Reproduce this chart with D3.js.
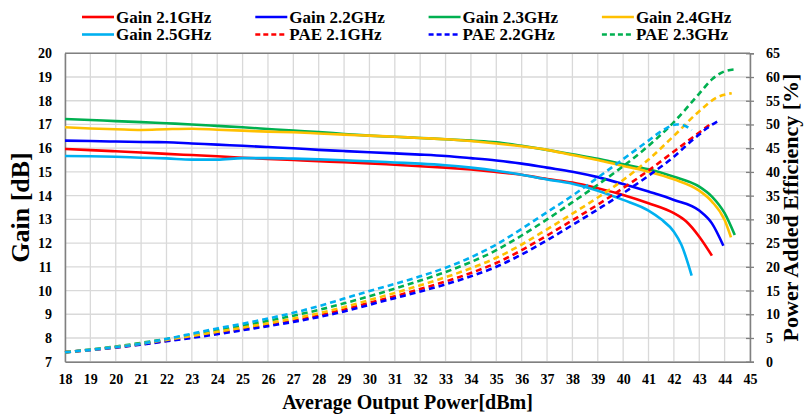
<!DOCTYPE html>
<html><head><meta charset="utf-8">
<script src="https://cdn.jsdelivr.net/npm/d3@7"></script>
<style>
html,body{margin:0;padding:0;background:#fff;}
svg text{font-family:"Liberation Serif","Times New Roman",serif;font-weight:bold;fill:#000;}
</style></head>
<body><svg id="c" width="805" height="415"></svg>
<script>
// ---------- data ----------
const powerTicks = [18,19,20,21,22,23,24,25,26,27,28,29,30,31,32,33,34,35,36,37,38,39,40,41,42,43,44,45];
const gainTicks = [7,8,9,10,11,12,13,14,15,16,17,18,19,20];
const paeTicks = [0,5,10,15,20,25,30,35,40,45,50,55,60,65];

const gain21 = [[18,15.97],[19,15.92],[20,15.87],[21,15.82],[22,15.76],[23,15.71],[24,15.66],[25,15.60],[26,15.55],[27,15.50],[28,15.45],[29,15.41],[30,15.36],[31,15.30],[32,15.24],[33,15.18],[34,15.10],[35,15.00],[36,14.88],[37,14.70],[38,14.55],[39,14.31],[40,14.03],[41,13.68],[42,13.26],[42.5,12.90],[43,12.27],[43.5,11.47]];
const gain22 = [[18,16.32],[19,16.30],[20,16.28],[21,16.26],[22,16.25],[23,16.20],[24,16.15],[25,16.10],[26,16.05],[27,16.00],[28,15.93],[29,15.88],[30,15.83],[31,15.78],[32,15.73],[33,15.67],[34,15.58],[35,15.48],[36,15.35],[37,15.18],[38,15.01],[39,14.78],[40,14.49],[41,14.17],[42,13.82],[43,13.37],[43.5,12.83],[43.95,11.89]];
const gain23 = [[18,17.23],[19,17.19],[20,17.14],[21,17.10],[22,17.05],[23,17.00],[24,16.94],[25,16.88],[26,16.81],[27,16.74],[28,16.68],[29,16.60],[30,16.53],[31,16.48],[32,16.43],[33,16.38],[34,16.32],[35,16.25],[36,16.10],[37,15.93],[38,15.74],[39,15.55],[40,15.32],[41,15.11],[42,14.80],[43,14.38],[43.5,13.96],[44,13.26],[44.4,12.34]];
const gain24 = [[18,16.88],[19,16.83],[20,16.80],[21,16.77],[22,16.80],[23,16.82],[24,16.78],[25,16.74],[26,16.70],[27,16.67],[28,16.62],[29,16.57],[30,16.53],[31,16.48],[32,16.43],[33,16.38],[34,16.30],[35,16.20],[36,16.08],[37,15.93],[38,15.71],[39,15.50],[40,15.25],[41,15.01],[42,14.69],[43,14.21],[43.5,13.75],[44,12.97],[44.25,12.24]];
const gain25 = [[18,15.67],[19,15.66],[20,15.64],[21,15.60],[22,15.57],[23,15.52],[24,15.52],[25,15.58],[26,15.58],[27,15.56],[28,15.53],[29,15.49],[30,15.45],[31,15.40],[32,15.35],[33,15.28],[34,15.18],[35,15.05],[36,14.88],[37,14.68],[38,14.50],[39,14.21],[40,13.82],[41,13.37],[41.5,13.00],[42,12.48],[42.3,11.92],[42.7,10.63]];

const pae21 = [[18,2.0],[20,3.0],[22,4.4],[24,6.0],[26,7.7],[27,8.6],[28,9.7],[29,11.0],[30,12.4],[31,13.8],[32,15.3],[33,16.9],[34,18.7],[35,20.8],[36,23.5],[37,26.6],[38,29.8],[39,33.1],[40,36.6],[41,40.3],[42,44.3],[43,48.3],[43.4,49.9]];
const pae22 = [[18,2.0],[20,3.0],[22,4.3],[24,5.8],[26,7.5],[27,8.4],[28,9.4],[29,10.6],[30,12.0],[31,13.4],[32,14.8],[33,16.3],[34,18.0],[35,20.0],[36,22.6],[37,25.6],[38,28.8],[39,32.1],[40,35.5],[41,39.2],[42,43.2],[42.64,46.3],[43,47.9],[43.3,49.2],[43.8,50.9]];
const pae23 = [[18,2.0],[20,3.2],[22,4.8],[24,6.6],[26,8.6],[27,9.7],[28,10.9],[29,12.3],[30,13.8],[31,15.4],[32,17.1],[33,18.9],[34,21.0],[35,23.5],[36,26.6],[37,30.0],[38,33.6],[39,37.3],[40,41.2],[41,45.5],[42,50.5],[43,56.5],[43.5,59.5],[44,61.2],[44.4,61.6]];
const pae24 = [[18,2.0],[20,3.1],[22,4.6],[24,6.3],[26,8.1],[27,9.1],[28,10.2],[29,11.5],[30,13.0],[31,14.5],[32,16.1],[33,17.8],[34,19.7],[35,21.9],[36,24.7],[37,27.9],[38,31.2],[39,34.6],[40,38.3],[41,42.6],[42,47.6],[43,52.8],[43.7,55.7],[44.28,56.6]];
const pae25 = [[18,2.0],[19,2.5],[20,3.1],[21,3.8],[22,4.8],[23,5.9],[24,7.0],[25,8.0],[26,9.1],[27,10.3],[28,11.7],[29,13.3],[30,14.9],[31,16.4],[32,18.0],[33,19.8],[34,22.0],[35,24.7],[36,28.0],[37,31.5],[38,35.0],[39,38.8],[40,42.7],[41,46.6],[41.6,48.9],[42.1,50.0],[42.4,49.8],[42.7,48.8]];

const legendNames = ["Gain 2.1GHz","Gain 2.2GHz","Gain 2.3GHz","Gain 2.4GHz","Gain 2.5GHz","PAE 2.1GHz","PAE 2.2GHz","PAE 2.3GHz"];

// ---------- layout ----------
const colors = {"2.1":"#ff0000","2.2":"#0000ff","2.3":"#00b050","2.4":"#ffc000","2.5":"#00b0f0"};
const L = 65, R = 750, T = 53.3, B = 361.7;
const svg = d3.select("#c");
const x = d3.scaleLinear().domain([18,45]).range([L,R]);
const yG = d3.scaleLinear().domain([7,20]).range([B,T]);
const yP = d3.scaleLinear().domain([0,65]).range([B,T]);

// gridlines
const grid = svg.append("g");
grid.selectAll("line.v").data(powerTicks).enter().append("line")
  .attr("x1",d=>x(d)).attr("x2",d=>x(d)).attr("y1",T).attr("y2",B)
  .attr("stroke","#d9d9d9").attr("stroke-width",1.3);
grid.selectAll("line.h").data(gainTicks).enter().append("line")
  .attr("x1",L).attr("x2",R).attr("y1",d=>yG(d)).attr("y2",d=>yG(d))
  .attr("stroke","#d9d9d9").attr("stroke-width",1.3);

// axes
const axL = svg.append("g").attr("transform",`translate(${L},0)`)
  .call(d3.axisLeft(yG).tickValues(gainTicks).tickSize(0).tickPadding(13).tickFormat(d3.format("d")));
const axR = svg.append("g").attr("transform",`translate(${R},0)`)
  .call(d3.axisRight(yP).tickValues(paeTicks).tickSize(4).tickPadding(12).tickFormat(d3.format("d")));
const axB = svg.append("g").attr("transform",`translate(0,${B})`)
  .call(d3.axisBottom(x).tickValues(powerTicks).tickSize(0).tickPadding(12).tickFormat(d3.format("d")));
[axL,axR,axB].forEach(a=>{
  a.selectAll("path.domain").attr("stroke","#808080").attr("stroke-width",1.5);
  a.selectAll(".tick line").attr("stroke","#808080").attr("stroke-width",1.3);
  a.selectAll("text").attr("font-size",14).attr("font-family","Liberation Serif").attr("font-weight","bold").attr("fill","#000");
});
axR.selectAll(".tick line").attr("x1",-4).attr("x2",4);
// top border
svg.append("line").attr("x1",L).attr("x2",R).attr("y1",T).attr("y2",T).attr("stroke","#808080").attr("stroke-width",1.5);

// lines
const gainSeries = [["2.1",gain21],["2.2",gain22],["2.3",gain23],["2.4",gain24],["2.5",gain25]];
const paeSeries = [["2.1",pae21],["2.2",pae22],["2.3",pae23],["2.4",pae24],["2.5",pae25]];
const lgGain = d3.line().x(d=>x(d[0])).y(d=>yG(d[1])).curve(d3.curveMonotoneX);
const lgPae = d3.line().x(d=>x(d[0])).y(d=>yP(d[1])).curve(d3.curveMonotoneX);
svg.append("g").selectAll("path").data(gainSeries).enter().append("path")
  .attr("d",d=>lgGain(d[1])).attr("fill","none").attr("stroke",d=>colors[d[0]]).attr("stroke-width",2.6);
svg.append("g").selectAll("path").data(paeSeries).enter().append("path")
  .attr("d",d=>lgPae(d[1])).attr("fill","none").attr("stroke",d=>colors[d[0]]).attr("stroke-width",2.6)
  .attr("stroke-dasharray","6,4");

// titles
svg.append("text").attr("x",(L+R)/2).attr("y",409).attr("text-anchor","middle").attr("font-size",20).text("Average Output Power[dBm]");
svg.append("text").attr("transform",`translate(29,${(T+B)/2}) rotate(-90)`).attr("text-anchor","middle").attr("font-size",26).text("Gain [dB]");
svg.append("text").attr("transform",`translate(798,${(T+B)/2}) rotate(-90)`).attr("text-anchor","middle").attr("font-size",22).text("Power Added Efficiency [%]");

// legend
const lg = svg.append("g");
legendNames.forEach((name,i)=>{
  const col = i%4, row = Math.floor(i/4);
  const gx = 82 + col*173.3, gy = 17 + row*17.5;
  const freq = name.split(" ")[1].replace("GHz","");
  const isPae = name.startsWith("PAE");
  lg.append("line").attr("x1",gx).attr("x2",gx+32).attr("y1",gy).attr("y2",gy)
    .attr("stroke",colors[freq]).attr("stroke-width",2.6).attr("stroke-dasharray",isPae?"5,3":null);
  lg.append("text").attr("x",gx+34).attr("y",gy+5.5).attr("font-size",17).text(name);
});
</script></body></html>
